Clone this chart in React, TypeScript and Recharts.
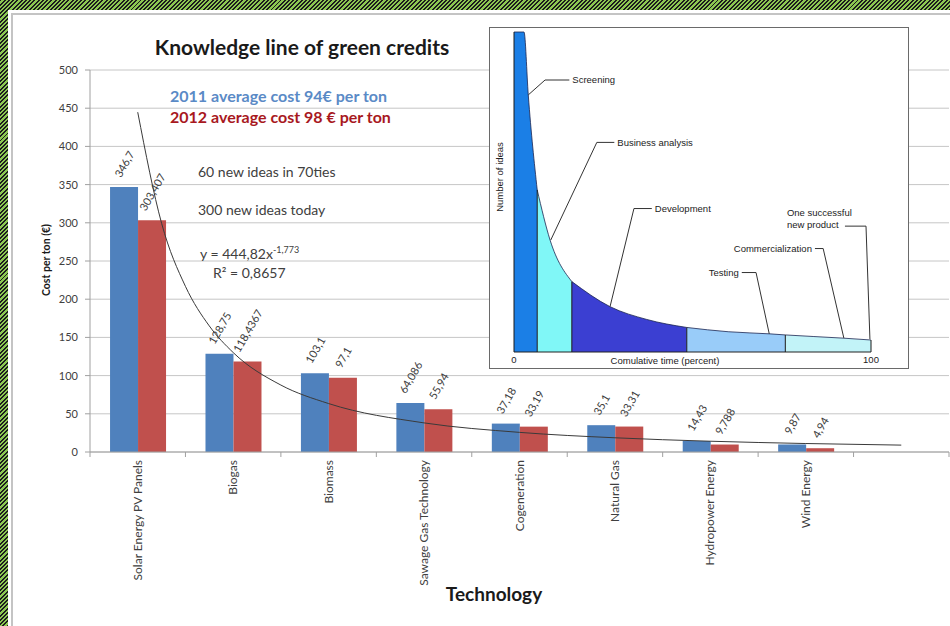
import React from 'react';
import {
  ComposedChart, Bar, Line, XAxis, YAxis, CartesianGrid, LabelList,
  AreaChart, Area, ReferenceLine,
} from 'recharts';

// ---------- main chart data ----------
const categories = [
  'Solar Energy PV Panels', 'Biogas', 'Biomass', 'Sawage Gas Technology',
  'Cogeneration', 'Natural Gas', 'Hydropower Energy', 'Wind Energy', '',
];
const cost2011 = [346.7, 128.75, 103.1, 64.086, 37.18, 35.1, 14.43, 9.87, null];
const cost2012 = [303.407, 118.4367, 97.1, 55.94, 33.19, 33.31, 9.788, 4.94, null];
const yTicks = [0, 50, 100, 150, 200, 250, 300, 350, 400, 450, 500];
// power trendline (category position -> cost)
const trendPos = [1, 1.25, 1.5, 1.75, 2, 2.5, 3, 4, 5, 6, 7, 8, 9];
const trendCost = [444.8, 299.4, 216.8, 165, 130.2, 87.6, 63.4, 38.1, 25.7, 18.6, 14.1, 11.1, 9.0];

// ---------- inset chart data ----------
const ideaTime = [0, 2.8, 4.0, 6.5, 10.1, 16.2, 26.9, 37.2, 48.4, 60, 71.7, 76, 84, 92.2, 100];
const ideaCount = [60, 60, 48.2, 30.4, 21, 13.2, 8.5, 6.1, 4.6, 3.8, 3.4, 3.2, 2.9, 2.6, 2.25];
const stageBounds = [0, 6.5, 16.2, 48.4, 76, 100];
const stageColors = ['#1b7fe6', '#80f7f7', '#3b3fd2', '#99ccf9', '#c2f3f8'];

type Note = { pts: [number, number][]; text: string; side: 'left' | 'right' | 'two' };
const notes: Note[] = [
  { pts: [[4.0, 48.2], [8.7, 51.0], [15.5, 51.0]], text: 'Screening', side: 'right' },
  { pts: [[10.3, 21.0], [23.2, 39.3], [28.1, 39.3]], text: 'Business analysis', side: 'right' },
  { pts: [[26.9, 8.5], [33.6, 26.9], [38.6, 26.9]], text: 'Development', side: 'right' },
  { pts: [[71.5, 3.4], [67.8, 14.9], [63.8, 14.9]], text: 'Testing', side: 'left' },
  { pts: [[92.4, 2.6], [86.6, 19.4], [84.3, 19.4]], text: 'Commercialization', side: 'left' },
  { pts: [[99.7, 2.4], [98.6, 23.6], [92.7, 23.6]], text: 'One successful|new product', side: 'two' },
];

// ---------- layout ----------
const W = 950;
const H = 626;
const M = { top: 70, right: 1, bottom: 54, left: 40 };
const Y_AXIS_W = 50;
const X_AXIS_H = 120;
const PLOT_LEFT = M.left + Y_AXIS_W;
const PLOT_RIGHT = W - M.right;
const PLOT_BOTTOM = H - M.bottom - X_AXIS_H;
const BAND = (PLOT_RIGHT - PLOT_LEFT) / categories.length;

const CAL = 'Lato, "Open Sans", sans-serif';
const ARIAL = '"Liberation Sans", Arial, sans-serif';
const TXT = '#404040';
const STRIPES = 'repeating-linear-gradient(135deg, #1c1c1c 0px, #1c1c1c 1.4px, #8cc751 1.4px, #8cc751 3px)';

const rows = categories.map((name, i) => ({ name, b2011: cost2011[i], b2012: cost2012[i] }));
const trendRows = trendPos.map((x, i) => ({ x, y: trendCost[i] }));

const ideaRows = ideaTime.map((x, i) => {
  const r: Record<string, number | null> = { x };
  for (let s = 0; s < stageColors.length; s++) {
    r['s' + s] = x >= stageBounds[s] && x <= stageBounds[s + 1] ? ideaCount[i] : null;
  }
  return r;
});

const CatTick = (props: any) => {
  const { x, payload, index } = props;
  const y0 = PLOT_BOTTOM;
  const last = index === categories.length - 1;
  return (
    <g>
      <line x1={x - BAND / 2} x2={x - BAND / 2} y1={y0} y2={y0 + 5} stroke="#a0a0a0" />
      {last && <line x1={x + BAND / 2} x2={x + BAND / 2} y1={y0} y2={y0 + 5} stroke="#a0a0a0" />}
      <text
        x={x + 4}
        y={y0 + 8}
        transform={`rotate(-90 ${x + 4} ${y0 + 8})`}
        textAnchor="end"
        fontSize={12}
        fontFamily={CAL}
        fill={TXT}
      >
        {payload.value}
      </text>
    </g>
  );
};

const RotLabel = (p: any) => {
  const { x, y, width, value } = p;
  if (value == null) return null;
  const s = String(value).replace('.', ',');
  const fs = 11;
  const L = s.length * 5.8;
  const a = (60 * Math.PI) / 180;
  const h = L * Math.sin(a) + fs * Math.cos(a);
  const cx = x + width / 2;
  const cy = y - h / 2 - 8;
  return (
    <text
      x={cx}
      y={cy}
      transform={`rotate(-60 ${cx} ${cy})`}
      textAnchor="middle"
      dominantBaseline="central"
      fontSize={fs}
      fontFamily={CAL}
      fill={TXT}
    >
      {s}
    </text>
  );
};

const TwoLine = (text: string) => (p: any) => {
  const vb = p.viewBox || {};
  const [a, b] = text.split('|');
  const x0 = vb.x - 58;
  const y0 = vb.y;
  return (
    <text x={x0} y={y0 - 10} fontSize={9.5} fontFamily={ARIAL} fill="#222">
      <tspan x={x0} dy={0}>{a}</tspan>
      <tspan x={x0} dy={12}>{b}</tspan>
    </text>
  );
};

const Inset = () => (
  <div
    style={{
      position: 'absolute', left: 489, top: 27, width: 420, height: 342,
      boxSizing: 'border-box', border: '1px solid #6a6a6a', background: '#fff',
    }}
  >
    <AreaChart width={418} height={340} data={ideaRows} margin={{ top: 4, right: 37, bottom: 0, left: 0 }}>
      <XAxis
        dataKey="x" type="number" domain={[0, 100]} ticks={[0, 100]} height={16}
        tickLine={false} axisLine={false} tickSize={0} tickMargin={4}
        tick={{ fontSize: 9.5, fill: '#222', fontFamily: ARIAL }}
      />
      <YAxis
        type="number" domain={[0, 60]} ticks={[60]} width={24}
        tickLine={false} axisLine={false} tickSize={0} tickMargin={10}
        tick={{ fontSize: 9.5, fill: '#222', fontFamily: ARIAL }}
      />
      {stageColors.map((c, s) => (
        <Area
          key={s}
          dataKey={'s' + s}
          type="monotone"
          fill={c}
          fillOpacity={1}
          stroke="#1b2550"
          strokeWidth={0.8}
          connectNulls={false}
          dot={false}
          activeDot={false}
          isAnimationActive={false}
        />
      ))}
      <ReferenceLine segment={[{ x: 0, y: 0 }, { x: 100, y: 0 }]} stroke="#222" strokeWidth={1} />
      {stageBounds.map((b) => {
        const h = ideaCount[ideaTime.indexOf(b)];
        return (
          <ReferenceLine key={'d' + b} segment={[{ x: b, y: 0 }, { x: b, y: h }]} stroke="#1a1a1a" strokeWidth={1} />
        );
      })}
      {notes.map((n, i) => (
        <React.Fragment key={'n' + i}>
          <ReferenceLine
            segment={[{ x: n.pts[0][0], y: n.pts[0][1] }, { x: n.pts[1][0], y: n.pts[1][1] }]}
            stroke="#333" strokeWidth={1}
          />
          <ReferenceLine
            segment={[{ x: n.pts[1][0], y: n.pts[1][1] }, { x: n.pts[2][0], y: n.pts[2][1] }]}
            stroke="#333" strokeWidth={1}
            label={
              n.side === 'two'
                ? TwoLine(n.text)
                : { value: n.text, position: n.side, offset: 3, fontSize: 9.5, fontFamily: ARIAL, fill: '#222' }
            }
          />
        </React.Fragment>
      ))}
    </AreaChart>
  </div>
);

export default function App() {
  return (
    <div
      style={{
        position: 'absolute', left: 0, top: 0, width: W, height: H, overflow: 'hidden',
        background: '#ffffff',
      }}
    >
      <div style={{ position: 'absolute', left: 0, top: 0, width: W, height: 10, background: STRIPES }} />
      <div style={{ position: 'absolute', left: 0, top: 0, width: 8, height: H, background: STRIPES }} />
      <div
        style={{
          position: 'absolute', left: 11, top: 13, width: W - 11, height: H - 13,
          borderLeft: '2px solid #c4c4c4', borderTop: '2px solid #c4c4c4', boxSizing: 'border-box',
        }}
      />
      <div style={{ position: 'absolute', left: 0, top: 0 }}>
        <ComposedChart width={W} height={H} data={rows} margin={M} barCategoryGap="21%" barGap={0}>
          <CartesianGrid xAxisId="cat" vertical={false} stroke="#c6c6c6" />
          <XAxis
            xAxisId="cat" dataKey="name" height={X_AXIS_H} interval={0}
            tick={<CatTick />} tickLine={false} axisLine={{ stroke: '#a0a0a0' }}
          />
          <XAxis xAxisId="t" dataKey="x" type="number" domain={[0.5, 9.5]} hide allowDataOverflow />
          <YAxis
            width={Y_AXIS_W} domain={[0, 500]} ticks={yTicks} interval={0}
            tick={{ fontSize: 11, fill: TXT, fontFamily: CAL }}
            tickSize={5} tickMargin={7}
            axisLine={{ stroke: '#a0a0a0' }} tickLine={{ stroke: '#a0a0a0' }}
          />
          <Bar xAxisId="cat" dataKey="b2011" fill="#4f81bd" isAnimationActive={false}>
            <LabelList dataKey="b2011" content={RotLabel} />
          </Bar>
          <Bar xAxisId="cat" dataKey="b2012" fill="#c0504d" isAnimationActive={false}>
            <LabelList dataKey="b2012" content={RotLabel} />
          </Bar>
          <Line
            xAxisId="t" data={trendRows} dataKey="y" type="monotone"
            stroke="#3a3a3a" strokeWidth={1} dot={false} activeDot={false}
            isAnimationActive={false}
          />
        </ComposedChart>
      </div>
      <svg width={W} height={H} style={{ position: 'absolute', left: 0, top: 0, pointerEvents: 'none' }}>
        <text x={302} y={55} textAnchor="middle" fontSize={21} fontWeight={700} fontFamily={CAL} fill="#1a1a1a">
          Knowledge line of green credits
        </text>
        <text x={170} y={102} fontSize={16} fontWeight={700} fontFamily={CAL} fill="#5a8ac6">
          2011 average cost 94€ per ton
        </text>
        <text x={170} y={123} fontSize={16} fontWeight={700} fontFamily={CAL} fill="#a8181e">
          2012 average cost 98 € per ton
        </text>
        <text x={198} y={177} fontSize={14} fontFamily={CAL} fill={TXT}>60 new ideas in 70ties</text>
        <text x={198} y={215} fontSize={14} fontFamily={CAL} fill={TXT}>300 new ideas today</text>
        <text x={200} y={259} fontSize={14} fontFamily={CAL} fill={TXT}>
          y = 444,82x<tspan fontSize={9} dy={-6}>-1,773</tspan>
        </text>
        <text x={213} y={278} fontSize={14} fontFamily={CAL} fill={TXT}>R² = 0,8657</text>
        <text
          x={50} y={260} transform="rotate(-90 50 260)" textAnchor="middle"
          fontSize={10.5} fontWeight={700} fontFamily={CAL} fill="#1a1a1a"
        >
          Cost per ton (€)
        </text>
        <text x={494} y={601} textAnchor="middle" fontSize={19} fontWeight={700} fontFamily={CAL} fill="#1a1a1a">
          Technology
        </text>
      </svg>
      <Inset />
      <svg width={W} height={H} style={{ position: 'absolute', left: 0, top: 0, pointerEvents: 'none' }}>
        <text
          x={503} y={177} transform="rotate(-90 503 177)" textAnchor="middle"
          fontSize={9.5} fontFamily={ARIAL} fill="#222"
        >
          Number of ideas
        </text>
        <text x={665} y={364} textAnchor="middle" fontSize={9.5} fontFamily={ARIAL} fill="#222">
          Comulative time (percent)
        </text>
      </svg>
    </div>
  );
}
